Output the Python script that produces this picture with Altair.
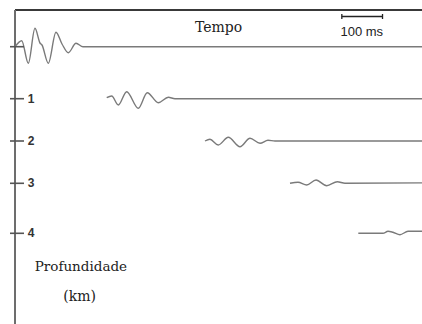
import altair as alt
import pandas as pd

# Time axis in ms (0 at the depth axis), vertical position in drawing units (downward)
trace_depth_km = [0, 1, 2, 3, 4]
trace_labels = ["", "1", "2", "3", "4"]
trace_baseline = [46.7, 98.7, 141.0, 183.3, 233.3]

# Wavelet samples per trace: time (ms) and amplitude (up is positive)
trace_time = [
    [0, 16.5, 32.7, 49.1, 61.4, 66.3, 81.8, 100.7, 115.5, 131.0, 149.9, 167.0, 1000],
    [225.3, 237.6, 253.8, 274.4, 303.0, 325.0, 352.0, 376.7, 393.0, 1000],
    [466.8, 479.0, 499.5, 524.0, 552.8, 577.4, 602.0, 621.6, 638.8, 1000],
    [675.7, 695.3, 716.7, 739.6, 765.8, 791.9, 810.8, 1000],
    [843.5, 904.2, 916.5, 928.7, 945.9, 965.6, 1000],
]
trace_amp = [
    [0, 6.0, -16.6, 18.4, 3.7, 1.7, -16.6, 14.4, 2.7, -6.0, 3.4, 0, 0],
    [1.0, 2.7, -6.3, 7.0, -9.6, 6.0, -4.0, 1.4, 0, 0],
    [0, 1.7, -4.0, 3.7, -5.7, 2.7, -2.3, 0.7, 0, 0],
    [0, 1.0, -1.7, 3.3, -2.4, 1.6, 0, 0.4],
    [0, 0, 2.0, 1.0, -1.4, 2.0, 2.0],
]

# Scale bar: 100 ms
scale_bar_start = 803
scale_bar_len = 100
scale_bar_level = 16.5

rows = []
for d, base, ts, amps in zip(trace_depth_km, trace_baseline, trace_time, trace_amp):
    for t, a in zip(ts, amps):
        rows.append({"depth": d, "t": t, "y": base - a})
traces = pd.DataFrame(rows)

ticks = pd.DataFrame({"depth": trace_depth_km, "label": trace_labels, "y": trace_baseline})

xs = alt.Scale(domain=[0, 1000], nice=False, zero=False)
ys = alt.Scale(domain=[0, 324], reverse=True, nice=False, zero=False)
X = lambda f: alt.X(f, type="quantitative", scale=xs, axis=None)
Y = lambda f: alt.Y(f, type="quantitative", scale=ys, axis=None)

lines = alt.Chart(traces).mark_line(
    color="#7a7a7a", strokeWidth=1.4, interpolate="monotone"
).encode(x=X("t"), y=Y("y"), detail="depth:N")

axis_line = alt.Chart(ticks).mark_rule(color="#6e6e6e", strokeWidth=1.6).encode(
    x=alt.value(0), y=alt.value(10), y2=alt.value(324)
)
top_line = alt.Chart(ticks).mark_rule(color="#3a3a3a", strokeWidth=1.6).encode(
    x=alt.value(0), x2=alt.value(407), y=alt.value(10)
)
tick_marks = alt.Chart(ticks).mark_rule(color="#555555", strokeWidth=1.6).encode(
    x=alt.value(-5), x2=alt.value(9), y=Y("y")
)
tick_text = alt.Chart(ticks).mark_text(
    font="Liberation Sans", fontWeight="bold", fontSize=12, color="#333333",
    align="center", baseline="middle"
).encode(x=alt.value(16), y=Y("y"), text="label:N")

bar_df = pd.DataFrame({"t0": [scale_bar_start], "t1": [scale_bar_start + scale_bar_len],
                       "y": [scale_bar_level]})
bar = alt.Chart(bar_df).mark_rule(color="#222222", strokeWidth=1.3).encode(
    x=X("t0"), x2="t1", y=Y("y")
)
bar_ends = alt.Chart(bar_df).transform_fold(["t0", "t1"], as_=["k", "tv"]).transform_calculate(
    ya="datum.y - 2.5", yb="datum.y + 2.5"
).mark_rule(color="#222222", strokeWidth=1.3).encode(x=X("tv"), y=Y("ya"), y2="yb")

labels_df = pd.DataFrame({
    "text": ["Tempo", "100 ms", "Profundidade", "(km)"],
    "t": [500, 852, 162, 159],
    "y": [28, 32, 267, 297],
    "font": ["DejaVu Serif", "Liberation Sans", "DejaVu Serif", "DejaVu Serif"],
    "size": [14, 13, 13.5, 14],
})

def label(i):
    r = labels_df.iloc[[i]]
    return alt.Chart(r).mark_text(
        font=r["font"].iloc[0], fontSize=float(r["size"].iloc[0]), color="#222222",
        align="center", baseline="middle"
    ).encode(x=X("t"), y=Y("y"), text="text:N")

chart = alt.layer(
    top_line, axis_line, lines, tick_marks, tick_text, bar, bar_ends,
    *[label(i) for i in range(len(labels_df))]
).properties(
    width=407, height=324,
    autosize=alt.AutoSizeParams(type="none"),
    padding={"left": 15, "top": 0, "right": 0, "bottom": 0},
    background="white",
).configure_view(stroke=None)

chart.save("out.html", embed_options={"renderer": "svg", "actions": False})
